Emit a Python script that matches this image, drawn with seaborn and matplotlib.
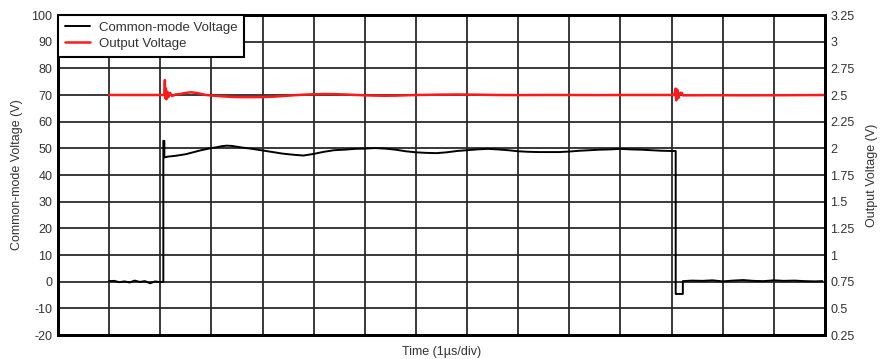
import matplotlib
matplotlib.use("Agg")
import matplotlib.pyplot as plt
import seaborn as sns
import pandas as pd

# ---- data ----
cm_time = [1.0, 1.1, 1.2, 1.3, 1.4, 1.5, 1.6, 1.7, 1.8, 1.9, 2.0, 2.06,
           2.06, 2.08, 2.08, 2.15, 2.2, 2.3, 2.4, 2.5, 2.6, 2.7, 2.8, 2.9, 3.0,
           3.1, 3.2, 3.3, 3.4, 3.5, 3.6, 3.8, 4.0, 4.2, 4.4, 4.6, 4.8, 5.0,
           5.2, 5.4, 5.6, 5.8, 6.0, 6.2, 6.4, 6.6, 6.8, 7.0, 7.2, 7.4, 7.6,
           7.8, 8.0, 8.2, 8.4, 8.6, 8.8, 9.0, 9.2, 9.4, 9.6, 9.8, 10.0, 10.2,
           10.4, 10.6, 10.8, 11.0, 11.2, 11.4, 11.6, 11.8, 12.0, 12.08,
           12.08, 12.22, 12.22, 12.4, 12.6, 12.8, 13.0, 13.2, 13.4, 13.6,
           13.8, 14.0, 14.2, 14.4, 14.6, 14.8, 14.95]
cm_volt = [0.2, 0.3, -0.2, 0.1, -0.3, 0.4, -0.1, 0.2, -0.6, 0.1, -0.2, 0.0,
           52.8, 52.8, 46.6, 46.9, 47.0, 47.2, 47.5, 47.8, 48.3, 48.8, 49.3, 49.7, 50.1,
           50.4, 50.8, 51.0, 50.9, 50.6, 50.3, 49.8, 49.2, 48.6, 48.0, 47.6, 47.3, 47.9,
           48.7, 49.3, 49.5, 49.8, 49.9, 50.1, 49.9, 49.5, 48.9, 48.5, 48.3, 48.2, 48.5,
           49.0, 49.3, 49.6, 49.8, 49.6, 49.3, 48.9, 48.7, 48.6, 48.6, 48.6, 48.8, 49.1,
           49.3, 49.5, 49.6, 49.8, 49.6, 49.5, 49.3, 49.1, 49.0, 49.0,
           -4.6, -4.6, 0.2, 0.4, 0.3, 0.5, 0.1, 0.4, 0.6, 0.3,
           0.2, 0.5, 0.3, 0.4, 0.2, 0.1, 0.2]

out_time = [1.0, 1.5, 2.0, 2.08, 2.09, 2.10, 2.11, 2.12, 2.14, 2.16, 2.19,
            2.23, 2.3, 2.4, 2.5, 2.6, 2.7, 2.8, 2.9, 3.0, 3.2, 3.4, 3.6, 3.8,
            4.0, 4.2, 4.4, 4.6, 4.8, 5.0, 5.2, 5.4, 5.6, 5.8, 6.0, 6.2, 6.4,
            6.6, 6.8, 7.0, 7.4, 7.8, 8.2, 8.6, 9.0, 9.5, 10.0, 10.5, 11.0,
            11.5, 12.05, 12.08, 12.09, 12.11, 12.13, 12.15, 12.17, 12.2,
            12.22, 12.3, 12.8, 13.5, 14.2, 15.0]
out_volt = [2.5, 2.5, 2.5, 2.5, 2.64, 2.47, 2.56, 2.46, 2.53, 2.48, 2.52,
            2.49, 2.505, 2.51, 2.52, 2.525, 2.52, 2.51, 2.50, 2.495, 2.488, 2.482, 2.48, 2.48,
            2.481, 2.484, 2.49, 2.497, 2.503, 2.507, 2.509, 2.508, 2.505, 2.501, 2.497, 2.494, 2.493,
            2.494, 2.497, 2.500, 2.503, 2.505, 2.503, 2.500, 2.499, 2.50, 2.50, 2.499, 2.50,
            2.50, 2.50, 2.56, 2.45, 2.55, 2.47, 2.50, 2.52, 2.52,
            2.497, 2.497, 2.498, 2.497, 2.498, 2.50]

left_ticks = [-20, -10, 0, 10, 20, 30, 40, 50, 60, 70, 80, 90, 100]
right_ticks = [0.25, 0.5, 0.75, 1, 1.25, 1.5, 1.75, 2, 2.25, 2.5, 2.75, 3, 3.25]
right_labels = ["0.25", "0.5", "0.75", "1", "1.25", "1.5", "1.75", "2",
                "2.25", "2.5", "2.75", "3", "3.25"]

# ---- plot ----
sns.set_theme(style="white")
plt.rcParams['font.family'] = ['Liberation Sans', 'DejaVu Sans']

fig = plt.figure(figsize=(8.84, 3.59), dpi=100)
ax = fig.add_axes([58/884, 24/359, 767/884, 320/359])
ax2 = ax.twinx()

cm_df = pd.DataFrame({"t": cm_time, "v": cm_volt})
out_df = pd.DataFrame({"t": out_time, "v": out_volt})

sns.lineplot(data=cm_df, x="t", y="v", ax=ax, sort=False, estimator=None,
             color="black", linewidth=1.4, label="Common-mode Voltage", legend=False)
sns.lineplot(data=out_df, x="t", y="v", ax=ax2, sort=False, estimator=None,
             color="#ff1a1a", linewidth=1.8, label="Output Voltage", legend=False)

ax.set_xlim(0, 15)
ax.set_ylim(-20, 100)
ax2.set_ylim(0.25, 3.25)
ax.set_xticks(range(0, 16))
ax.set_xticklabels([])
ax.set_yticks(left_ticks)
ax.set_yticklabels([str(v) for v in left_ticks])
ax2.set_yticks(right_ticks)
ax2.set_yticklabels(right_labels)

ax.grid(True, color="#2a2a2a", linewidth=1.3)
ax.set_axisbelow(True)
ax2.grid(False)

for a in (ax, ax2):
    for s in a.spines.values():
        s.set_color("black")
        s.set_linewidth(2)
    a.tick_params(length=0, labelsize=9, colors="#333333", pad=4)

ax.set_xlabel("Time (1µs/div)", fontsize=9, color="#333333", labelpad=4)
ax.set_ylabel("Common-mode Voltage (V)", fontsize=9, color="#333333", labelpad=6)
ax2.set_ylabel("Output Voltage (V)", fontsize=9, color="#333333", labelpad=8,
               rotation=90)

h1, l1 = ax.get_legend_handles_labels()
h2, l2 = ax2.get_legend_handles_labels()
leg = ax2.legend(h1 + h2, l1 + l2, loc="upper left", bbox_to_anchor=(0, 1),
                 borderaxespad=0, fancybox=False, framealpha=1, fontsize=9.5,
                 handlelength=1.9, handletextpad=0.7, borderpad=0.5,
                 labelspacing=0.3, edgecolor="black")
leg.get_frame().set_linewidth(1.5)
for t in leg.get_texts():
    t.set_color("#333333")

fig.savefig("out.png", dpi=100)
